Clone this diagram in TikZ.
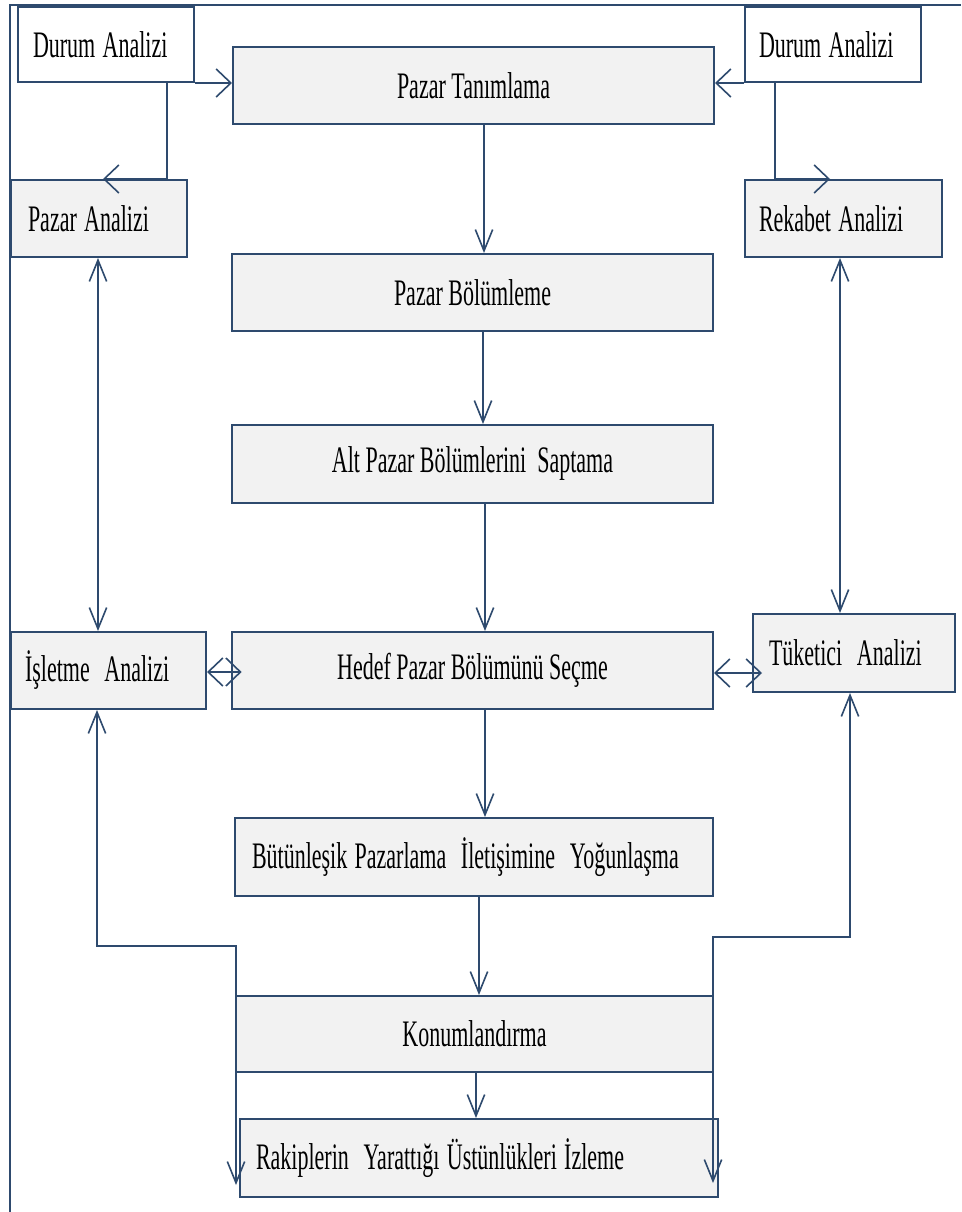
\documentclass[tikz,border=0pt]{standalone}
\usepackage{fontspec}
\setmainfont{Liberation Serif}
\usepackage{graphicx}
\usetikzlibrary{arrows.meta}
\definecolor{lc}{HTML}{2E4A6E}
\definecolor{bfill}{HTML}{F2F2F2}
\newcommand{\stx}[1]{\scalebox{1}[1.7]{#1}}
\begin{document}
\begin{tikzpicture}[x=0.75pt,y=-0.75pt,
  box/.style={draw=lc, line width=1.5pt, fill=bfill, rectangle,
    font=\fontsize{16.5}{20}\selectfont, inner ysep=0pt},
  wbox/.style={box, fill=white},
  lbox/.style n args={3}{text width=#1, inner xsep=#2, minimum height=#3, align=left},
  cbox/.style 2 args={minimum width=#1, minimum height=#2, align=center},
  conn/.style={draw=lc, line width=1.2pt},
  frameline/.style={draw=lc, line width=1.5pt},
  tipv/.style={-{Straight Barb[length=16pt,width=13pt]}},
  tipvv/.style={{Straight Barb[length=16pt,width=13pt]}-{Straight Barb[length=16pt,width=13pt]}},
  tiph/.style={-{Straight Barb[length=11pt,width=21pt]}},
  tiphh/.style={{Straight Barb[length=11pt,width=21pt]}-{Straight Barb[length=11pt,width=21pt]}}
]
\useasboundingbox[fill=white] (0,0) rectangle (961,1212);
\draw[frameline] (10,1212) -- (10,5) -- (961,5);

% boxes
\node[wbox, lbox={109.5pt}{11.25pt}{56.25pt}] (durL) at (106,44.5) {\stx{Durum Analizi}};
\node[wbox, lbox={111pt}{10.5pt}{56.25pt}] (durR) at (833,44.5) {\stx{Durum Analizi}};
\node[box, cbox={360.75pt}{57.75pt}] (tanim) at (473.5,85.5) {\stx{Pazar Tanımlama}};
\node[box, lbox={106.5pt}{12.75pt}{57.75pt}] (pazA) at (99,218.5) {\stx{Pazar Analizi}};
\node[box, lbox={126.75pt}{10.5pt}{57.75pt}] (rekA) at (843.5,218.5) {\stx{Rekabet Analizi}};
\node[box, cbox={360.75pt}{57.75pt}] (bolum) at (472.5,292.5) {\stx{Pazar Bölümleme}};
\node[box, cbox={360.75pt}{58.5pt}] (alt) at (472.5,464) {\stx{Alt Pazar Bölümlerini\ \ Saptama}};
\node[box, lbox={125.25pt}{10.5pt}{57.75pt}] (islet) at (108.5,670.5) {\stx{İşletme\ \ Analizi}};
\node[box, cbox={360.75pt}{57.75pt}] (hedef) at (472.5,670.5) {\stx{Hedef Pazar Bölümünü Seçme}};
\node[box, lbox={127.5pt}{12pt}{58.5pt}] (tuket) at (854,653) {\stx{Tüketici\ \ Analizi}};
\node[box, lbox={333pt}{12.75pt}{58.5pt}] (butun) at (474,857) {\stx{Bütünleşik Pazarlama\ \ İletişimine\ \ Yoğunlaşma}};
\node[box, cbox={357.75pt}{57pt}] (konum) at (474.5,1034) {\stx{Konumlandırma}};
\node[box, lbox={334.5pt}{12pt}{58.5pt}] (rakip) at (479,1158) {\stx{Rakiplerin\ \ Yarattığı Üstünlükleri İzleme}};

% free ends of the feedback lines
\coordinate (fbL) at (236,1185);
\coordinate (fbR) at (713,1183);

% connectors
\draw[conn, tiph] (durL.south east) -- (durL.south east -| tanim.west);
\draw[conn, tiph] (167,0 |- durL.south) -- (167,0 |- pazA.north) -- (103,0 |- pazA.north);
\draw[conn, tiph] (durR.south west) -- (durR.south west -| tanim.east);
\draw[conn, tiph] (775,0 |- durR.south) -- (775,0 |- rekA.north) -- (830,0 |- rekA.north);

\draw[conn, tipv] (484,0 |- tanim.south) -- (484,0 |- bolum.north);
\draw[conn, tipv] (483,0 |- bolum.south) -- (483,0 |- alt.north);
\draw[conn, tipv] (485,0 |- alt.south) -- (485,0 |- hedef.north);
\draw[conn, tipv] (485,0 |- hedef.south) -- (485,0 |- butun.north);
\draw[conn, tipv] (479,0 |- butun.south) -- (479,0 |- konum.north);
\draw[conn, tipv] (476,0 |- konum.south) -- (476,0 |- rakip.north);

\draw[conn, tipvv] (98,0 |- pazA.south) -- (98,0 |- islet.north);
\draw[conn, tipvv] (840,0 |- rekA.south) -- (840,0 |- tuket.north);

\draw[conn, tiphh, shorten >=-8pt] (islet.east |- 0,672) -- (hedef.west |- 0,672);
\draw[conn, tiphh, shorten >=-7.5pt] (hedef.east |- 0,673) -- (tuket.west |- 0,673);

\draw[conn, tipvv] (97,0 |- islet.south) -- (97,946) -- (236,946) -- (fbL);
\draw[conn, tipvv] (850,0 |- tuket.south) -- (850,937) -- (713,937) -- (fbR);
\end{tikzpicture}
\end{document}
